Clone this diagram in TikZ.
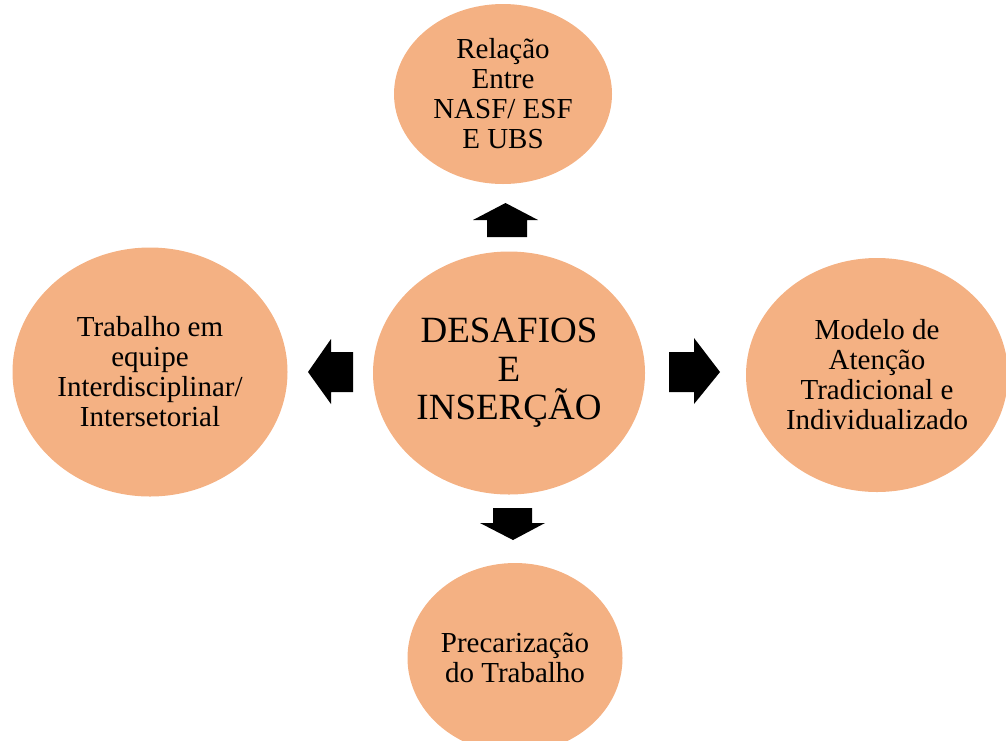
\documentclass[tikz,border=0pt]{standalone}
\usepackage{fontspec}
\setmainfont{Liberation Serif}
\usepackage{xcolor}
\usepackage{tikz}
\usetikzlibrary{shapes}
\definecolor{salmon}{HTML}{F4B183}
\tikzset{ bubble/.style = {ellipse, fill=salmon, inner sep=0pt, align=center,
          font=\fontsize{21.75pt}{22.5pt}\selectfont} }
\tikzset{ blockarrow/.style = {fill=black} }

\begin{document}
\begin{tikzpicture}[x=0.75pt,y=-0.75pt]
            \useasboundingbox (0,0) rectangle (1006,740);
            \clip (0,0) rectangle (1006,740);
            \node [style=bubble, minimum width=204pt, minimum height=182.25pt,
                   font=\fontsize{27.75pt}{29pt}\selectfont] (desafios) at (509,373) {DESAFIOS\\E\\INSERÇÃO};
            \node [style=bubble, minimum width=163.5pt, minimum height=135pt] (relacao) at (503,94) {Relação\\Entre\\NASF/ ESF\\E UBS};
            \node [style=bubble, minimum width=206.25pt, minimum height=186.75pt] (trabalho) at (150,372) {Trabalho em\\equipe\\Interdisciplinar/\\Intersetorial};
            \node [style=bubble, minimum width=196.5pt, minimum height=175.5pt] (modelo) at (877,375) {Modelo de\\Atenção\\Tradicional e\\Individualizado};
            \node [style=bubble, minimum width=161.25pt, minimum height=142.5pt] (precar) at (515,658) {Precarização\\do Trabalho};
            % block arrows
            \fill [style=blockarrow] (473,220) -- (505.5,203) -- (538,220) -- (527,220) -- (527,237) -- (487,237) -- (487,220) -- cycle;
            \fill [style=blockarrow] (308,372) -- (331,339) -- (331,352) -- (353,352) -- (353,392) -- (331,392) -- (331,404) -- cycle;
            \fill [style=blockarrow] (720,372) -- (694,338) -- (694,352) -- (669,352) -- (669,392) -- (694,392) -- (694,404) -- cycle;
            \fill [style=blockarrow] (513,540) -- (480,523) -- (493,523) -- (493,508) -- (532,508) -- (532,523) -- (545,523) -- cycle;
    \end{tikzpicture}
\end{document}
